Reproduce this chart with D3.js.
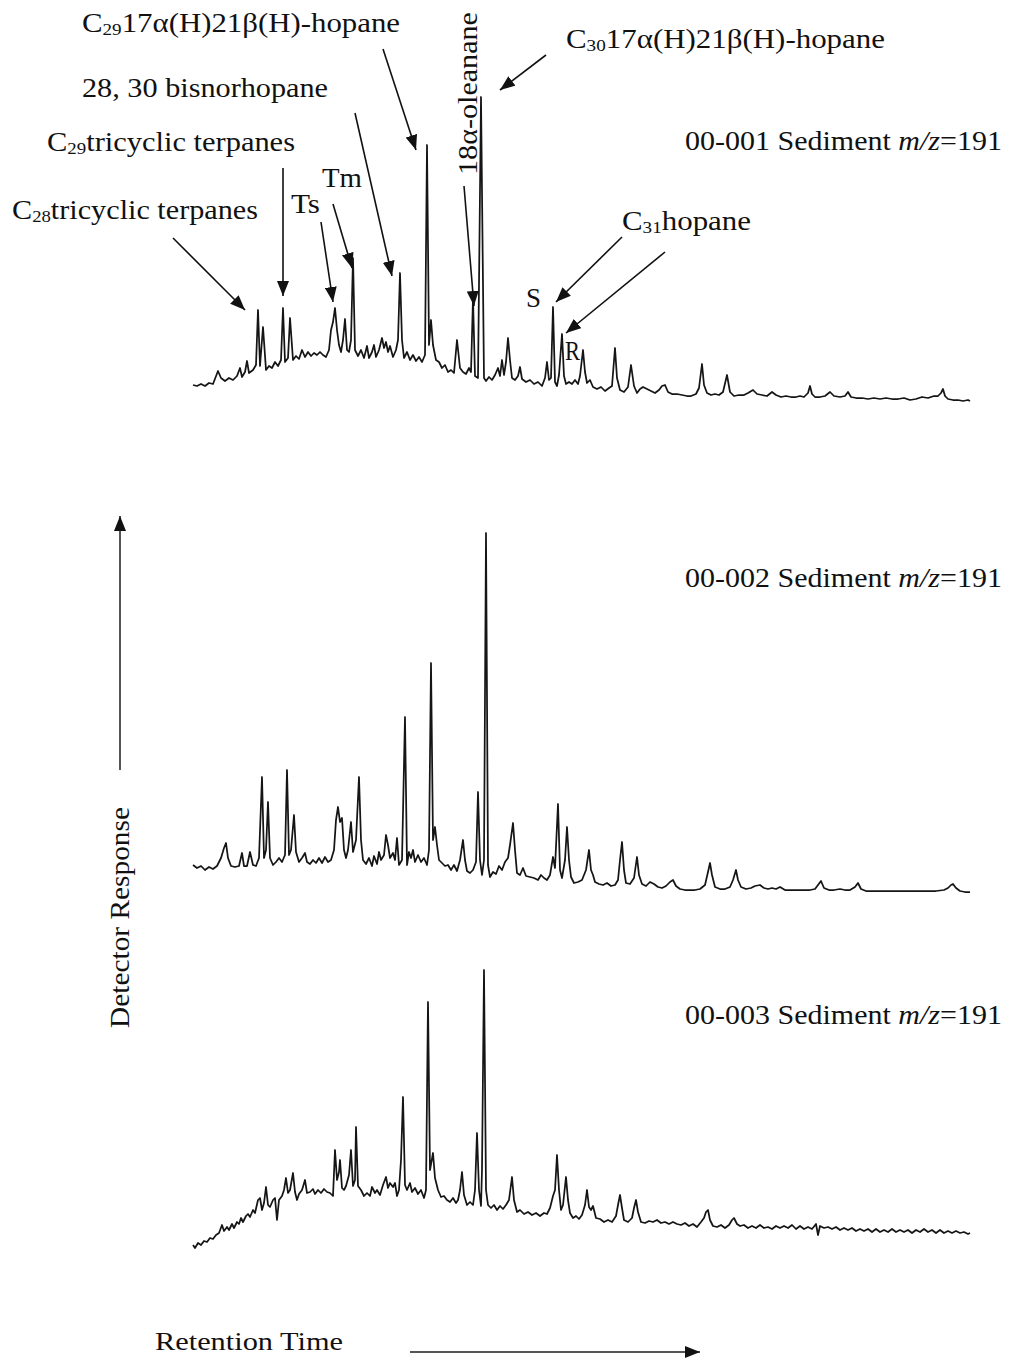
<!DOCTYPE html>
<html>
<head>
<meta charset="utf-8">
<script src="https://cdn.jsdelivr.net/npm/d3@7"></script>
<style>
  html, body { margin: 0; padding: 0; background: #fff; }
  svg text { font-family: "Liberation Serif", "Times New Roman", serif; fill: #111; }
</style>
</head>
<body>
<svg id="chart" width="1009" height="1359"></svg>
<script>
// m/z 191 mass chromatograms, one vertex list per sediment sample: [scan, response]
const sample001 = [[0,10],[8,9.5],[16,10.5],[24,9.5],[32,11],[40,10.5],[50,17],[56,13.5],[64,12],[72,13.5],[80,12.5],[88,14.5],[94,18.5],[98,14],[104,16.5],[108,22],[112,16],[120,17.5],[126,20],[130,47.5],[134,19.5],[140,39],[146,17.5],[152,19.5],[158,18.5],[164,21.5],[170,19.5],[176,22.5],[180,48.5],[184,21.5],[190,23.5],[194,43.5],[200,22.5],[206,24.5],[212,23],[218,27.5],[224,24],[230,26.5],[236,24.5],[242,26],[248,25],[254,26.5],[260,25],[266,24],[272,27.5],[276,37.5],[280,41.5],[284,48.5],[288,37.5],[292,30],[296,26.5],[300,32.5],[304,43],[308,27.5],[312,26.5],[316,32.5],[320,73.5],[324,27.5],[330,24.5],[336,27.5],[342,23.5],[348,29.5],[352,23.5],[358,26.5],[362,30],[366,24],[372,27.5],[378,33.5],[382,28.5],[386,31.5],[390,26.5],[394,29.5],[400,24],[406,27.5],[410,32.5],[414,66],[418,32.5],[422,23.5],[428,26.5],[434,22.5],[440,25],[446,22],[452,24],[458,21.5],[464,25],[468,130],[472,30],[476,42.5],[480,30],[486,22.5],[492,21.5],[498,18.5],[504,20],[510,16.5],[516,17.5],[522,16],[528,32.5],[534,18.5],[540,16.5],[546,15.5],[552,18.5],[556,16.5],[560,53.5],[564,14.5],[570,13.5],[576,154],[582,13.5],[586,12],[592,14],[598,12.5],[604,15],[610,18.5],[614,14.5],[618,22.5],[622,15],[626,21.5],[630,33.5],[634,22.5],[638,13.5],[644,12.5],[650,14.5],[654,19],[658,13],[666,11.5],[674,12.5],[682,10.5],[690,11.5],[698,9.5],[704,13.5],[708,21.5],[712,12.5],[716,13.5],[720,49],[724,11.5],[728,9.5],[732,15],[738,35.5],[742,14.5],[746,10.5],[752,11.5],[758,10.5],[764,12.5],[770,10.5],[774,14.5],[780,27.5],[784,16.5],[788,11],[794,12.5],[800,9],[808,8],[816,9],[824,7],[832,8.5],[838,9.5],[844,28.5],[848,13.5],[854,7.5],[862,6.5],[870,9],[876,20],[882,9.5],[888,6],[894,8],[900,9],[908,8],[916,7],[924,6],[932,7.5],[938,9.5],[944,10],[950,6.5],[958,5.5],[968,5.5],[978,5],[988,4.5],[996,4.5],[1006,5.5],[1012,8.5],[1018,20.5],[1022,10],[1028,6],[1036,5],[1044,5.5],[1052,5],[1060,6.5],[1068,15],[1074,6.5],[1082,4.5],[1092,5],[1102,5],[1110,6],[1120,7.5],[1128,5.5],[1138,5],[1148,4.5],[1158,6.5],[1166,5],[1176,4],[1186,4.5],[1196,4],[1206,4],[1214,4.5],[1222,4],[1230,6],[1234,9.5],[1238,5.5],[1244,4],[1254,4],[1264,4.5],[1274,6.5],[1282,4.5],[1294,4],[1304,4.5],[1310,6.5],[1316,4],[1326,3.5],[1338,3.5],[1350,3],[1362,3.5],[1374,3],[1386,3.5],[1398,3],[1410,3],[1422,3.5],[1434,2.5],[1446,3],[1458,4],[1470,3.5],[1482,4.5],[1490,4.5],[1496,6],[1500,8],[1504,4.5],[1510,3],[1520,2.5],[1530,2.5],[1540,2],[1550,2.5],[1554,2]];

const sample002 = [[0,15],[8,13.5],[16,14.5],[24,12.5],[32,14],[40,13],[48,14.5],[56,18.5],[62,23.5],[66,26],[70,18.5],[76,14.5],[84,14],[92,14.5],[98,21],[102,14.5],[108,14.5],[114,21.5],[120,15],[126,14.5],[132,18.5],[138,59],[142,18.5],[146,22.5],[150,46.5],[154,18.5],[160,15],[166,16.5],[172,18.5],[178,16.5],[184,20],[188,62.5],[192,20],[196,22.5],[202,40],[206,21.5],[212,16.5],[218,18.5],[224,21],[228,16.5],[234,15.5],[240,17.5],[246,16],[252,18.5],[258,16],[264,19],[270,16.5],[276,17.5],[282,22.5],[286,37.5],[290,44],[294,36.5],[298,38.5],[302,22.5],[306,18.5],[310,22.5],[316,36.5],[320,21.5],[326,27.5],[332,59],[336,27.5],[340,17.5],[346,15.5],[352,18.5],[358,14.5],[362,19.5],[368,15.5],[372,21.5],[376,17.5],[382,20],[386,30],[390,25],[394,18.5],[400,21],[404,17.5],[408,28.5],[412,15],[418,17.5],[424,89],[428,15],[432,21.5],[436,18.5],[440,22.5],[444,16.5],[450,20],[456,16.5],[462,18.5],[468,15],[472,22.5],[476,116],[480,27.5],[484,34],[488,25],[492,17.5],[498,16],[504,14.5],[510,15],[516,12.5],[522,15],[528,12],[534,17.5],[540,27.5],[544,17.5],[548,12],[554,11],[560,12.5],[566,16.5],[570,51.5],[574,17.5],[578,10],[582,17.5],[586,181],[590,15],[594,9],[600,11.5],[606,10.5],[612,14.5],[618,12.5],[624,16.5],[630,18.5],[634,25],[640,36],[644,22.5],[648,11],[654,10],[660,13.5],[666,9.5],[674,9],[682,8.5],[690,7.5],[696,10],[702,8.5],[708,7.5],[714,10],[720,19],[724,13.5],[730,45.5],[734,12.5],[738,8.5],[744,17.5],[748,34],[752,17.5],[756,9],[762,6],[770,6.5],[778,7.5],[786,12.5],[792,22.5],[796,12.5],[800,10],[804,6.5],[812,5.5],[820,5],[828,6],[836,4.5],[844,5],[850,7.5],[854,17.5],[858,26.5],[862,12.5],[866,6],[874,5.5],[882,8.5],[888,19],[892,10],[898,5.5],[906,4.5],[914,6.5],[922,5.5],[930,4],[938,3.5],[946,4.5],[954,6.5],[960,7.5],[966,4.5],[974,3],[984,2.5],[994,2.5],[1004,2.5],[1014,3],[1024,5],[1030,11.5],[1034,16],[1038,10],[1044,4],[1054,3],[1064,3],[1074,4],[1080,7.5],[1086,12.5],[1090,7.5],[1096,4],[1106,3],[1116,3.5],[1124,4.5],[1134,5],[1142,3.5],[1150,3],[1158,3.5],[1166,3],[1174,4],[1184,2.5],[1194,2.5],[1204,2.5],[1214,2.5],[1224,2.5],[1234,2.5],[1244,3],[1250,5],[1256,7],[1262,3.5],[1272,2.5],[1282,2.5],[1294,3],[1304,2.5],[1314,2.5],[1324,4],[1330,6],[1336,3],[1346,2],[1358,2],[1374,2],[1390,2],[1406,2],[1422,2],[1438,2],[1454,2],[1470,2],[1486,2],[1502,2.5],[1510,3.5],[1516,5],[1520,5.5],[1526,3.5],[1534,2],[1544,1.5],[1554,1.5]];

const sample003 = [[0,2.5],[4,1],[10,3.5],[16,2.5],[22,4.5],[28,4],[34,6],[40,5.5],[46,7.5],[52,8.5],[58,12.5],[62,9.5],[68,11.5],[72,10],[78,13],[82,11],[88,14],[92,13],[96,16],[100,14],[106,17],[110,18],[114,16.5],[120,20],[124,18.5],[130,25],[134,26],[138,20],[142,23.5],[146,31.5],[150,22.5],[154,21.5],[160,25],[164,26],[168,15],[172,25],[178,27],[182,30],[186,36],[190,28.5],[194,30],[200,38.5],[204,29],[208,25],[212,28],[218,30],[224,35],[228,28.5],[234,29],[240,30.5],[244,28],[250,30],[256,28.5],[262,30.5],[268,29],[274,28.5],[280,27],[284,50],[288,35],[292,39],[294,45],[298,31],[302,30],[306,32],[312,37.5],[316,50],[320,32],[324,35],[326,61.5],[330,32],[336,30],[342,27],[348,28.5],[354,27],[358,31.5],[364,28.5],[368,30],[374,27.5],[380,32.5],[386,36.5],[390,31],[394,33.5],[400,31.5],[404,33.5],[408,27],[412,30],[416,45],[420,76.5],[424,32.5],[428,30],[434,33.5],[438,29],[444,31],[450,28],[456,30],[462,26],[466,30],[470,124],[474,40],[480,48.5],[484,36],[490,30],[496,26.5],[502,27],[508,25],[514,24],[520,26],[526,23.5],[530,25],[534,30],[538,39],[542,27.5],[548,22.5],[554,24],[560,22.5],[564,30],[568,58.5],[572,30],[576,22],[578,40],[582,140],[586,30],[590,22.5],[596,21],[602,22.5],[608,20],[614,22],[620,20.5],[626,22.5],[632,25],[638,36.5],[642,25],[648,19],[654,20],[662,18],[670,19],[678,17.5],[686,18.5],[694,17],[702,18.5],[708,18],[714,21],[720,27],[724,30],[728,47.5],[732,30],[736,20],[740,22.5],[746,36.5],[750,25],[754,18.5],[760,16],[766,17],[772,15.5],[778,17.5],[784,22.5],[788,30],[792,21.5],[796,20],[800,22],[806,16],[814,15.5],[822,14],[830,15],[838,14],[846,17],[850,22.5],[854,27.5],[858,21],[862,15],[870,14],[878,16],[882,21],[886,25],[890,19],[896,14],[904,13.5],[912,14.5],[920,14],[928,15],[936,13.5],[944,14],[952,13],[960,14],[968,13],[976,12.5],[984,13.5],[992,12],[1000,13],[1008,11.5],[1016,14],[1022,16],[1026,19],[1030,20],[1034,15],[1040,12],[1048,11.5],[1056,12.5],[1064,11],[1072,12.5],[1078,15],[1082,16],[1088,13],[1094,12],[1102,12.5],[1110,11],[1118,12],[1126,11],[1134,12.5],[1142,11],[1150,11.5],[1158,10.5],[1166,12],[1174,11],[1182,12],[1190,11],[1198,12.5],[1206,10.5],[1214,12],[1222,10.5],[1230,11.5],[1238,10.5],[1246,13],[1250,7.5],[1254,12],[1262,11],[1270,11.5],[1278,10.5],[1286,11.5],[1294,10],[1302,11],[1310,10],[1318,11],[1326,9.5],[1334,10.5],[1342,9.5],[1350,10.5],[1358,9],[1366,10.5],[1374,9],[1382,10],[1390,9],[1398,10.5],[1406,9],[1414,10],[1422,9],[1430,10],[1438,8.5],[1446,10],[1454,9],[1462,10.5],[1470,9],[1478,10],[1486,8.5],[1494,10],[1502,8.5],[1510,9.5],[1518,8.5],[1526,9.5],[1534,8.5],[1542,9],[1550,8],[1554,8.5]];

const sampleIds = ["00-001", "00-002", "00-003"];

// Peak assignments on the 00-001 trace: where each arrow points, [scan, response]
const peakNames = ["C28 tricyclic terpanes", "C29 tricyclic terpanes", "Ts", "Tm",
  "28, 30 bisnorhopane", "C29 17α(H)21β(H)-hopane", "18α-oleanane",
  "C30 17α(H)21β(H)-hopane", "C31 hopane (S)", "C31 hopane (R)"];
const peakScans = [104, 180, 280, 318, 398, 446, 562, 614, 726, 746];
const peakResponses = [47.5, 54.5, 51.5, 68.5, 64.5, 127.5, 49.5, 157.5, 51.5, 36];

// ---- layout ----
const svg = d3.select("#chart");
const x = d3.scaleLinear().domain([0, 1554]).range([193, 970]);
const panelBase = [405, 895, 1250];
const yScales = panelBase.map(b => d3.scaleLinear().domain([0, 100]).range([b, b - 200]));
const traces = [sample001, sample002, sample003];

const defs = svg.append("defs");
defs.append("marker")
  .attr("id", "head")
  .attr("viewBox", "0 0 15 12")
  .attr("refX", 15).attr("refY", 6)
  .attr("markerWidth", 15).attr("markerHeight", 12)
  .attr("markerUnits", "userSpaceOnUse")
  .attr("orient", "auto")
  .append("path").attr("d", "M0,0L15,6L0,12Z").attr("fill", "#111");

// chromatogram traces
traces.forEach((tr, i) => {
  const line = d3.line().x(d => x(d[0])).y(d => yScales[i](d[1]));
  svg.append("path")
    .datum(tr)
    .attr("d", line)
    .attr("fill", "none")
    .attr("stroke", "#151515")
    .attr("stroke-width", 1.75)
    .attr("stroke-linejoin", "round");
});

// text with optional subscript / italic runs
function richText(g, parts, px, py, width, size) {
  const t = g.append("text")
    .attr("x", px).attr("y", py)
    .attr("font-size", size)
    .attr("textLength", width)
    .attr("lengthAdjust", "spacingAndGlyphs");
  let lowered = false;
  parts.forEach(p => {
    const s = t.append("tspan").text(p[0]);
    if (p[1]) { s.attr("font-size", size * 0.62).attr("dy", 3); lowered = true; }
    else if (lowered) { s.attr("dy", -3); lowered = false; }
    if (p[2]) s.attr("font-style", "italic");
  });
  return t;
}

// annotation arrows for the 00-001 trace (tail points are label-side anchors)
const arrowTails = [[173, 238], [283, 168], [321, 222], [333, 204], [355, 113],
  [383, 49], [464, 186], [546, 55], [622, 237], [665, 252]];
peakScans.forEach((s, i) => {
  svg.append("line")
    .attr("x1", arrowTails[i][0]).attr("y1", arrowTails[i][1])
    .attr("x2", x(s)).attr("y2", yScales[0](peakResponses[i]))
    .attr("stroke", "#111").attr("stroke-width", 1.6)
    .attr("marker-end", "url(#head)")
    .append("title").text(peakNames[i]);
});

const labels = [
  { parts: [["C"], ["29", 1], ["17α(H)21β(H)-hopane"]], x: 82, y: 32, w: 318 },
  { parts: [["28, 30 bisnorhopane"]], x: 82, y: 97, w: 246 },
  { parts: [["C"], ["29", 1], ["tricyclic terpanes"]], x: 47, y: 151, w: 248 },
  { parts: [["C"], ["28", 1], ["tricyclic terpanes"]], x: 12, y: 219, w: 246 },
  { parts: [["Tm"]], x: 322, y: 187, w: 40 },
  { parts: [["Ts"]], x: 291, y: 213, w: 29 },
  { parts: [["C"], ["30", 1], ["17α(H)21β(H)-hopane"]], x: 566, y: 48, w: 319 },
  { parts: [["C"], ["31", 1], ["hopane"]], x: 622, y: 230, w: 129 },
  { parts: [["S"]], x: 526, y: 307, w: 15 },
  { parts: [["R"]], x: 565, y: 360, w: 15 }
];
labels.forEach(l => richText(svg, l.parts, l.x, l.y, l.w, 28));

// vertical oleanane label
svg.append("text")
  .attr("transform", "translate(477,175) rotate(-90)")
  .attr("font-size", 27)
  .attr("textLength", 163).attr("lengthAdjust", "spacingAndGlyphs")
  .text("18α-oleanane");

// sample titles
sampleIds.forEach((id, i) => {
  richText(svg, [[id + " Sediment "], ["m/z", 0, 1], ["=191"]],
    685, panelBase[i] - [255, 308, 226][i], 317, 28);
});

// axis cues
svg.append("line")
  .attr("x1", 120).attr("y1", 770).attr("x2", 120).attr("y2", 516)
  .attr("stroke", "#555").attr("stroke-width", 2)
  .attr("marker-end", "url(#head)");
svg.append("text")
  .attr("transform", "translate(129,1028) rotate(-90)")
  .attr("font-size", 27)
  .attr("textLength", 221).attr("lengthAdjust", "spacingAndGlyphs")
  .text("Detector Response");

svg.append("line")
  .attr("x1", 410).attr("y1", 1352).attr("x2", 700).attr("y2", 1352)
  .attr("stroke", "#555").attr("stroke-width", 2)
  .attr("marker-end", "url(#head)");
svg.append("text")
  .attr("x", 155).attr("y", 1350)
  .attr("font-size", 26)
  .attr("textLength", 188).attr("lengthAdjust", "spacingAndGlyphs")
  .text("Retention Time");
</script>
</body>
</html>
